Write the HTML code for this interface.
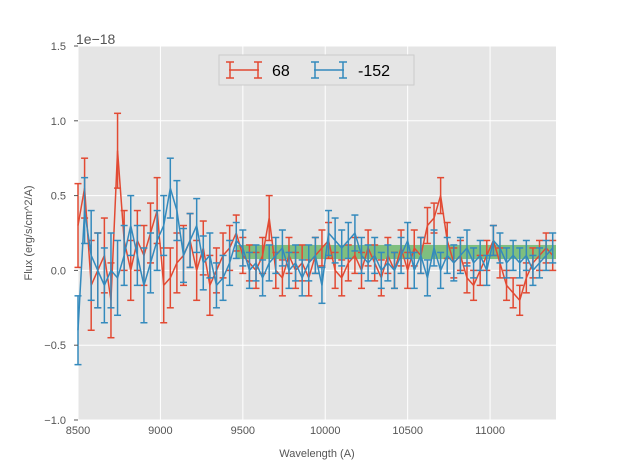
<!DOCTYPE html>
<html><head><meta charset="utf-8"><style>
body{margin:0;background:#fff;}
svg{display:block;font-family:"Liberation Sans",sans-serif;}
</style></head><body>
<svg id="chart" width="617" height="467" viewBox="0 0 617 467" xmlns="http://www.w3.org/2000/svg">
<rect x="78" y="46" width="478" height="374" fill="#e5e5e5"/>
<g id="grid"></g>
<g id="band"></g>
<g id="series"></g>
<g id="axes"></g>
<text x="76" y="44" font-size="14" fill="#555">1e−18</text>
<text x="317" y="457" font-size="11" fill="#555" text-anchor="middle">Wavelength (A)</text>
<text transform="translate(32,233) rotate(-90)" font-size="11" fill="#555" text-anchor="middle">Flux (erg/s/cm^2/A)</text>
<g>
<rect x="219" y="55" width="195" height="30" fill="#e5e5e5" stroke="#ccc"/>
<g stroke="#E24A33" stroke-width="1.5"><line x1="229" y1="70" x2="259" y2="70"/><line x1="230" y1="62" x2="230" y2="78"/><line x1="258" y1="62" x2="258" y2="78"/><line x1="226" y1="62" x2="234" y2="62"/><line x1="226" y1="78" x2="234" y2="78"/><line x1="254" y1="62" x2="262" y2="62"/><line x1="254" y1="78" x2="262" y2="78"/></g>
<text x="272" y="76" font-size="16" fill="#000">68</text>
<g stroke="#348ABD" stroke-width="1.5"><line x1="314" y1="70" x2="344" y2="70"/><line x1="315" y1="62" x2="315" y2="78"/><line x1="343" y1="62" x2="343" y2="78"/><line x1="311" y1="62" x2="319" y2="62"/><line x1="311" y1="78" x2="319" y2="78"/><line x1="339" y1="62" x2="347" y2="62"/><line x1="339" y1="78" x2="347" y2="78"/></g>
<text x="358" y="76" font-size="16" fill="#000">-152</text>
</g>
</svg>
<script>
const xTicks=[8500,9000,9500,10000,10500,11000];
const yTicks=[-1.0,-0.5,0.0,0.5,1.0,1.5];
const yTickLabels=["−1.0","−0.5","0.0","0.5","1.0","1.5"];
const waveStart=8500;
const waveStep=40;
const redVals=[0.3,0.55,-0.1,0.0,0.1,-0.2,0.8,0.2,0.0,0.2,0.1,0.25,0.4,-0.1,-0.05,0.05,0.1,0.2,0.0,0.15,-0.1,0.0,0.1,0.15,0.25,0.1,0.05,0.0,0.1,0.35,0.0,-0.05,0.1,0.0,0.05,-0.05,0.1,0.15,0.2,0.0,-0.05,0.05,0.1,0.0,0.15,0.05,-0.05,0.1,0.0,0.15,0.0,0.15,0.1,0.3,0.35,0.5,0.2,0.05,0.1,-0.05,-0.1,0.0,0.1,0.2,0.05,-0.1,-0.15,-0.2,-0.05,0.05,0.1,0.15,0.1];
const redErr=[0.28,0.2,0.3,0.25,0.25,0.25,0.25,0.2,0.2,0.2,0.2,0.2,0.22,0.25,0.2,0.2,0.2,0.18,0.2,0.18,0.2,0.15,0.15,0.15,0.12,0.12,0.12,0.12,0.12,0.15,0.12,0.12,0.12,0.12,0.12,0.12,0.12,0.12,0.12,0.12,0.12,0.12,0.12,0.12,0.12,0.12,0.12,0.12,0.12,0.12,0.12,0.12,0.12,0.12,0.1,0.12,0.12,0.1,0.1,0.1,0.1,0.1,0.1,0.1,0.1,0.1,0.1,0.1,0.1,0.1,0.1,0.1,0.1];
const blueVals=[-0.4,0.4,0.1,0.0,-0.1,0.0,-0.05,0.1,0.3,0.1,-0.1,0.05,0.2,0.3,0.55,0.4,0.1,0.2,0.3,0.05,0.1,-0.1,-0.05,0.05,0.2,0.15,0.0,0.05,-0.05,0.05,0.1,0.15,0.0,0.05,-0.05,0.05,0.1,-0.1,0.25,0.2,0.15,0.2,0.25,0.1,0.05,0.1,0.0,0.05,0.0,0.1,0.2,0.0,0.1,-0.05,0.15,0.0,0.1,0.05,0.1,0.15,0.05,0.1,0.0,0.2,0.15,0.05,0.1,0.05,0.1,0.0,0.05,0.1,0.15];
const blueErr=[0.23,0.22,0.3,0.25,0.25,0.25,0.25,0.2,0.2,0.2,0.25,0.2,0.2,0.2,0.2,0.2,0.18,0.18,0.18,0.18,0.15,0.15,0.15,0.15,0.12,0.12,0.12,0.12,0.12,0.12,0.12,0.12,0.12,0.12,0.12,0.12,0.12,0.12,0.15,0.15,0.12,0.12,0.12,0.12,0.12,0.12,0.12,0.12,0.12,0.12,0.12,0.12,0.12,0.12,0.12,0.12,0.12,0.12,0.12,0.12,0.1,0.1,0.1,0.1,0.1,0.1,0.1,0.1,0.1,0.1,0.1,0.1,0.1];
const bandX=[9460,11400];
const bandY=[0.076,0.17];
const NS="http://www.w3.org/2000/svg";
const X0=78,X1=556,Y0=46,Y1=420,xmin=8500,xmax=11400,ymin=-1,ymax=1.5;
function sx(v){return X0+(v-xmin)/(xmax-xmin)*(X1-X0);}
function sy(v){return Y1-(v-ymin)/(ymax-ymin)*(Y1-Y0);}
function mk(tag,attrs,parent){const e=document.createElementNS(NS,tag);for(const k in attrs)e.setAttribute(k,attrs[k]);parent.appendChild(e);return e;}
const grid=document.getElementById('grid'),axes=document.getElementById('axes');
xTicks.forEach((t,i)=>{
  const g=mk('line',{x1:sx(t),x2:sx(t),y1:Y0,y2:Y1,stroke:'#fff','stroke-width':1},grid);
  
  
  const l=mk('text',{x:sx(t),y:Y1+14,'font-size':11,fill:'#555','text-anchor':'middle'},axes);
  l.textContent=t;
  
  
});
yTicks.forEach((t,i)=>{
  const g=mk('line',{x1:X0,x2:X1,y1:sy(t),y2:sy(t),stroke:'#fff','stroke-width':1},grid);
  
  
  const l=mk('text',{x:X0-12,y:sy(t)+4,'font-size':11,fill:'#555','text-anchor':'end'},axes);
  l.textContent=yTickLabels[i];
  
  
  const tk=mk('line',{x1:X0-4,x2:X0,y1:sy(t),y2:sy(t),stroke:'#555'},axes);
  
  
});
const band=mk('rect',{x:sx(bandX[0]),y:sy(bandY[1]),width:sx(bandX[1])-sx(bandX[0]),height:sy(bandY[0])-sy(bandY[1]),fill:'#2ca02c','fill-opacity':0.55},document.getElementById('band'));


const ser=document.getElementById('series');
function drawSeries(vals,errs,color,name){
  const g=mk('g',{stroke:color,'stroke-width':1.5,fill:'none'},ser);
  
  
  let d='';
  vals.forEach((v,i)=>{
    const x=sx(waveStart+i*waveStep);
    d+=(i?'L':'M')+x+','+sy(v);
    const e=errs[i];
    mk('line',{x1:x,x2:x,y1:sy(v-e),y2:sy(v+e)},g);
    mk('line',{x1:x-3.5,x2:x+3.5,y1:sy(v-e),y2:sy(v-e)},g);
    mk('line',{x1:x-3.5,x2:x+3.5,y1:sy(v+e),y2:sy(v+e)},g);
  });
  const p=mk('path',{d:d},g);
  
  
}
drawSeries(redVals,redErr,'#E24A33','series-68');
drawSeries(blueVals,blueErr,'#348ABD','series-neg152');
</script>
</body></html>
